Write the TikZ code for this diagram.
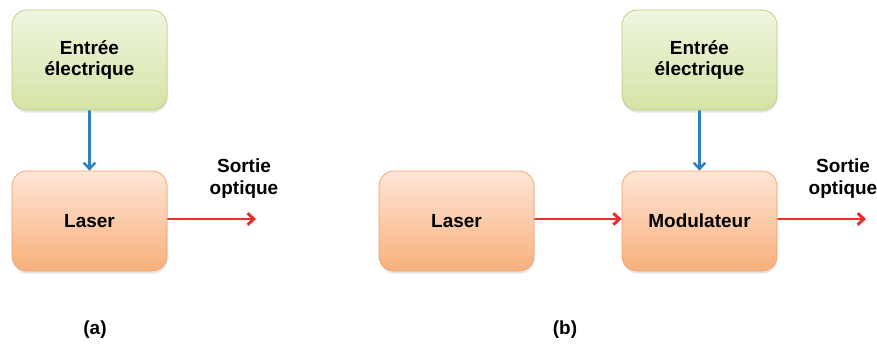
\documentclass[tikz,border=0pt]{standalone}
\usepackage{fontspec}
\setmainfont{Liberation Sans}
\usetikzlibrary{arrows.meta,shadows}
\pgfdeclarelayer{nodelayer}
\pgfdeclarelayer{edgelayer}
\pgfsetlayers{edgelayer,nodelayer,main}
\definecolor{greentop}{HTML}{F0F6E0}
\definecolor{greenbot}{HTML}{D5E3A6}
\definecolor{greenline}{HTML}{B8CE80}
\definecolor{orangetop}{HTML}{FDE6D6}
\definecolor{orangebot}{HTML}{F8B07C}
\definecolor{orangeline}{HTML}{F3A06A}
\definecolor{arrowblue}{HTML}{2E80C0}
\definecolor{arrowred}{HTML}{E8302A}
\tikzstyle{input box}=[draw=greenline, top color=greentop, bottom color=greenbot, shape=rectangle, rounded corners=0.3cm, minimum width=3.1cm, minimum height=2cm, align=center, font=\bfseries\fontsize{10.8}{12.5}\selectfont, drop shadow={opacity=0.2, shadow xshift=0.4pt, shadow yshift=-1.5pt}]
\tikzstyle{optic box}=[draw=orangeline, top color=orangetop, bottom color=orangebot, shape=rectangle, rounded corners=0.3cm, minimum width=3.1cm, minimum height=2cm, align=center, font=\bfseries\fontsize{10.8}{12.5}\selectfont, drop shadow={opacity=0.2, shadow xshift=0.4pt, shadow yshift=-1.5pt}]
\tikzstyle{none}=[fill=none, draw=none, shape=circle, scale=0]
\tikzstyle{text only}=[fill=none, draw=none, align=center, font=\bfseries\fontsize{10.8}{12.5}\selectfont]
\tikzset{
	signal edge/.style={draw=arrowblue, line width=1.4pt, -{Straight Barb[length=3.5pt,width=6.5pt]}},
	light edge/.style={draw=arrowred, line width=1.7pt, -{Straight Barb[length=3.5pt,width=6.5pt]}}
}

\begin{document}
\begin{tikzpicture}
	\useasboundingbox (0,0) rectangle (17.54,-6.9);
	\begin{pgfonlayer}{nodelayer}
		\node [style=input box] (0) at (1.79, -1.2) {Entrée\\électrique};
		\node [style=optic box] (1) at (1.79, -4.42) {Laser};
		\node [style=none] (2) at (5.12, -4.38) {};
		\node [style=text only] (3) at (4.88, -3.58) {Sortie\\optique};
		\node [style=input box] (4) at (13.99, -1.2) {Entrée\\électrique};
		\node [style=optic box] (5) at (9.13, -4.42) {Laser};
		\node [style=optic box] (6) at (13.99, -4.42) {Modulateur};
		\node [style=none] (7) at (17.32, -4.38) {};
		\node [style=text only] (8) at (16.86, -3.58) {Sortie\\optique};
		\node [style=text only] (9) at (1.9, -6.6) {(a)};
		\node [style=text only] (10) at (11.3, -6.6) {(b)};
	\end{pgfonlayer}
	\begin{pgfonlayer}{edgelayer}
		\draw [style=signal edge] (0) to (1);
		\draw [style=light edge] (1.east |- 2.center) to (2.center);
		\draw [style=signal edge] (4) to (6);
		\draw [style=light edge] (5.east |- 2.center) to (6.west |- 2.center);
		\draw [style=light edge] (6.east |- 7.center) to (7.center);
	\end{pgfonlayer}
\end{tikzpicture}
\end{document}
